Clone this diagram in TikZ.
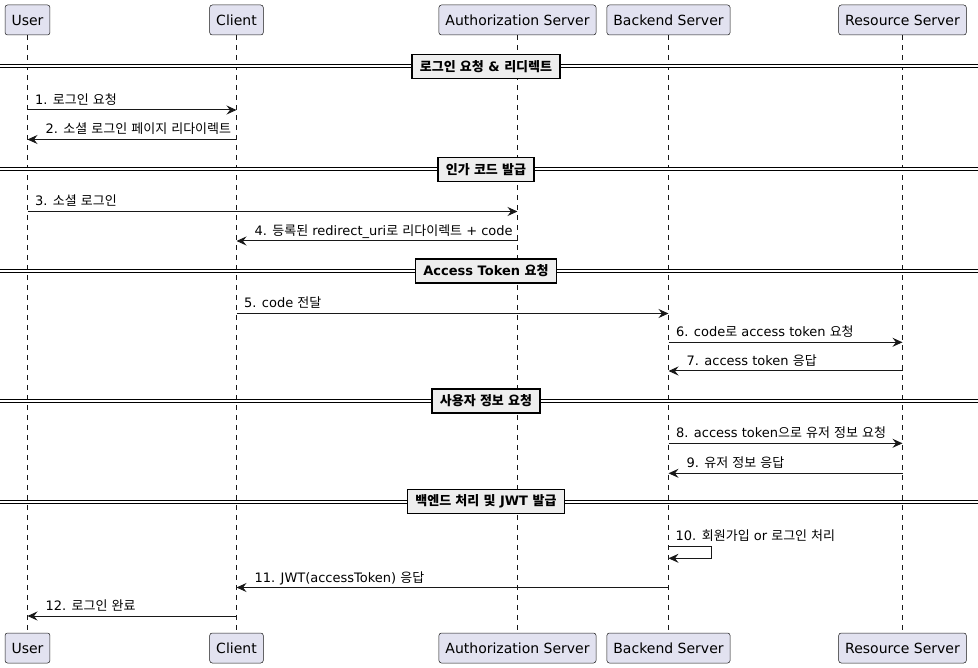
\documentclass[tikz,border=0pt]{standalone}
\usepackage{fontspec}
\setmainfont{DejaVu Sans}
\newfontfamily\kofont[WordSpace=1.4]{Noto Sans CJK KR}
\newcommand{\kor}[1]{{\kofont #1}}
\usetikzlibrary{arrows.meta}

\definecolor{partyfill}{HTML}{E2E2F0}
\definecolor{lineclr}{HTML}{181818}
\definecolor{divfill}{HTML}{EEEEEE}

\tikzset{
	party/.style={draw=lineclr, line width=0.5pt, fill=partyfill, rounded corners=2.5pt, minimum height=30pt, inner xsep=6.5pt, font=\fontsize{14}{16}\selectfont},
	life/.style={draw=lineclr, line width=0.5pt, dash pattern=on 5pt off 5pt},
	msg/.style={draw=lineclr, line width=1pt, -{Stealth[length=10pt,width=9pt,inset=3.5pt]}},
	lblr/.style={pos=0, anchor=base west, inner sep=0pt, xshift=7pt, yshift=5.5pt, font=\fontsize{13}{15}\selectfont},
	lbll/.style={pos=1, anchor=base west, inner sep=0pt, xshift=17.5pt, yshift=5.5pt, font=\fontsize{13}{15}\selectfont},
	divline/.style={draw=black, line width=1pt, double distance=2pt},
	divbox/.style={draw=black, line width=1.8pt, fill=divfill, minimum height=24pt, inner xsep=8pt, font=\bfseries\fontsize{13}{15}\selectfont}
}

\begin{document}
\begin{tikzpicture}[x=1pt, y=-1pt]
		\useasboundingbox (0,0) rectangle (978,668);
		% participants
		\node[party] (uT) at (27.5,20) {User};
		\node[party] (cT) at (236.5,20) {Client};
		\node[party] (aT) at (517.5,20) {Authorization Server};
		\node[party] (bT) at (668.5,20) {Backend Server};
		\node[party] (rT) at (902.5,20) {Resource Server};
		\node[party] (uB) at (27.5,648) {User};
		\node[party] (cB) at (236.5,648) {Client};
		\node[party] (aB) at (517.5,648) {Authorization Server};
		\node[party] (bB) at (668.5,648) {Backend Server};
		\node[party] (rB) at (902.5,648) {Resource Server};
		\foreach \p in {u,c,a,b,r}
			\draw[life] (\p T.south) -- (\p B.north);
		
		% dividers
		\foreach \i/\y/\t in {1/66.5/{\kor{로그인 요청} \& \kor{리디렉트}}, 2/169.5/{\kor{인가 코드 발급}}, 3/270.7/{Access Token \kor{요청}}, 4/401/{\kor{사용자 정보 요청}}, 5/501.5/{\kor{백엔드 처리 및} JWT \kor{발급}}}{
			\draw[divline] (0,\y) -- (978,\y);
			\node[divbox] (d\i) at (486,\y) {\t};
		}
		
		% messages
		\draw[msg] (uT |- 0,110) -- (cT |- 0,110) node[lblr]{1. \kor{로그인 요청}};
		\draw[msg] (cT |- 0,139.5) -- (uT |- 0,139.5) node[lbll]{2. \kor{소셜 로그인 페이지 리다이렉트}};
		\draw[msg] (uT |- 0,211.5) -- (aT |- 0,211.5) node[lblr]{3. \kor{소셜 로그인}};
		\draw[msg] (aT |- 0,241) -- (cT |- 0,241) node[lbll]{4. \kor{등록된} redirect\_uri\kor{로 리다이렉트} + code};
		\draw[msg] (cT |- 0,313.5) -- (bT |- 0,313.5) node[lblr]{5. code \kor{전달}};
		\draw[msg] (bT |- 0,342.3) -- (rT |- 0,342.3) node[lblr]{6. code\kor{로} access token \kor{요청}};
		\draw[msg] (rT |- 0,371) -- (bT |- 0,371) node[lbll]{7. access token \kor{응답}};
		\draw[msg] (bT |- 0,443.3) -- (rT |- 0,443.3) node[lblr]{8. access token\kor{으로 유저 정보 요청}};
		\draw[msg] (rT |- 0,473.3) -- (bT |- 0,473.3) node[lbll]{9. \kor{유저 정보 응답}};
		\draw[msg] (bT |- 0,546) -- ++(43,0) -- ++(0,12.3) -- (bT |- 0,558.3);
		\node[anchor=base west, inner sep=0pt, font=\fontsize{13}{15}\selectfont] (t10) at ([xshift=7pt]bT |- 0,540.5) {10. \kor{회원가입} or \kor{로그인 처리}};
		\draw[msg] (bT |- 0,587.5) -- (cT |- 0,587.5) node[lbll]{11. JWT(accessToken) \kor{응답}};
		\draw[msg] (cT |- 0,616) -- (uT |- 0,616) node[lbll]{12. \kor{로그인 완료}};
		
		\end{tikzpicture}
\end{document}
